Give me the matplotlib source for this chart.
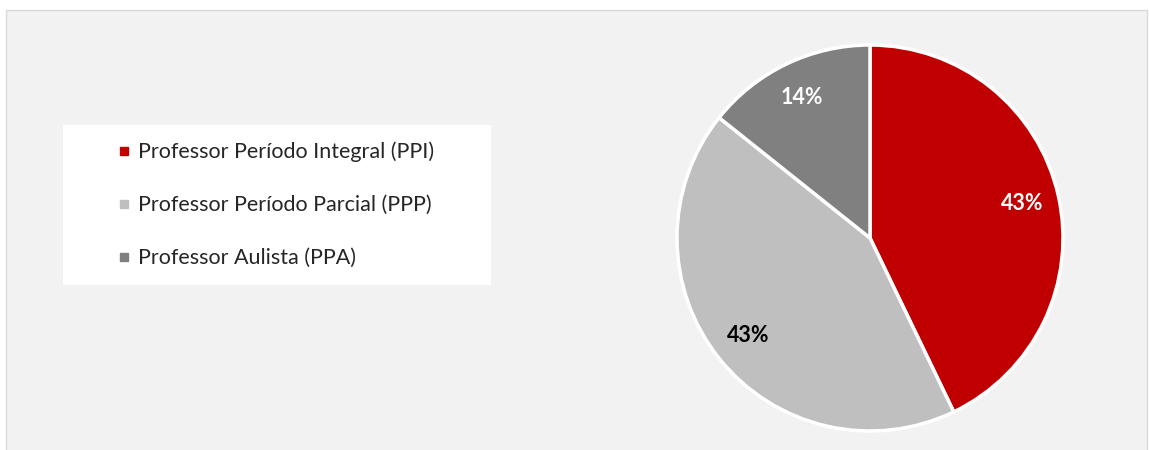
import matplotlib.pyplot as plt
from matplotlib.lines import Line2D
from matplotlib.patches import Rectangle

plt.rcParams['font.family'] = ['Lato', 'DejaVu Sans']

# dados
categorias = ['Professor Período Integral (PPI)',
              'Professor Período Parcial (PPP)',
              'Professor Aulista (PPA)']
valores = [3, 3, 1]
cores = ['#C00000', '#BFBFBF', '#808080']
cores_rotulo = ['white', 'black', 'white']

W, H = 1149, 450
fig = plt.figure(figsize=(W / 100, H / 100), dpi=100)
fig.patch.set_facecolor('white')

# painel cinza de fundo (a borda inferior fica fora da imagem)
fig.add_artist(Rectangle((6 / W, -0.02), 1141 / W, 1.02 - 10 / H, transform=fig.transFigure,
                         facecolor='#F2F2F2', edgecolor='#D9D9D9', linewidth=1.0,
                         zorder=-2))

# caixa branca da legenda
fig.add_artist(Rectangle((63 / W, 1 - 285 / H), 428 / W, 160 / H, transform=fig.transFigure,
                         facecolor='white', edgecolor='none', zorder=-1))

# pizza: centro (870, 238), raio 193 px
r = 193
cx, cy = 870, H - 238
ax = fig.add_axes([(cx - 200) / W, (cy - 200) / H, 400 / W, 400 / H])

wedges, textos, pcts = ax.pie(valores, colors=cores, startangle=90, counterclock=False,
                              autopct='%1.0f%%', pctdistance=0.81, radius=1,
                              wedgeprops=dict(edgecolor='white', linewidth=2.5))
for t, c in zip(pcts, cores_rotulo):
    t.set_color(c)
    t.set_fontsize(15.5)
    t.set_fontweight('bold')

ax.set_xlim(-200 / r, 200 / r)
ax.set_ylim(-200 / r, 200 / r)
ax.axis('off')

# legenda
handles = [Line2D([], [], marker='s', linestyle='none', markersize=6,
                  markerfacecolor=c, markeredgecolor=c) for c in cores]
leg = fig.legend(handles, categorias, loc='center left',
                 bbox_to_anchor=(113 / W, 1 - 205 / H), frameon=False,
                 fontsize=15.5, labelspacing=1.53, handletextpad=0.15,
                 handlelength=1.0, borderpad=0, borderaxespad=0)
for t in leg.get_texts():
    t.set_color('#262626')

fig.savefig('out.png', dpi=100)
